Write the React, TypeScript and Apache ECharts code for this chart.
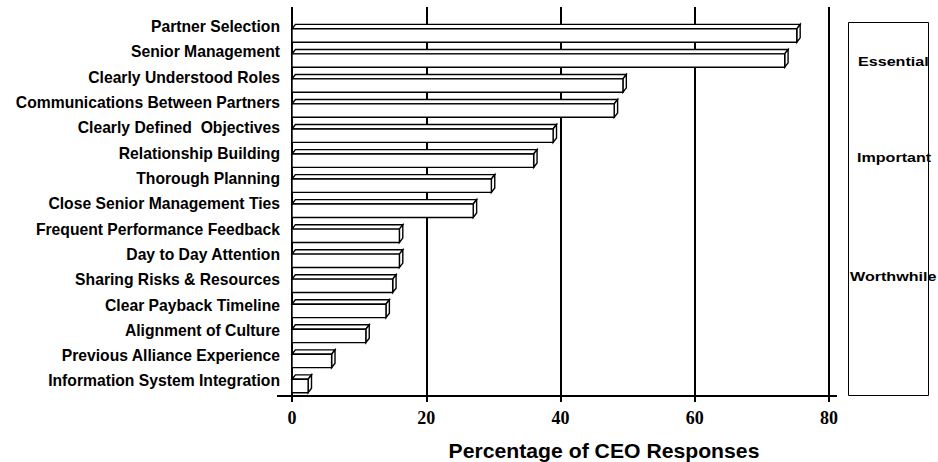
import React, { useEffect, useRef } from "react";
import * as echarts from "echarts";

const categories = [
  "Partner Selection",
  "Senior Management",
  "Clearly Understood Roles",
  "Communications Between Partners",
  "Clearly Defined  Objectives",
  "Relationship Building",
  "Thorough Planning",
  "Close Senior Management Ties",
  "Frequent Performance Feedback",
  "Day to Day Attention",
  "Sharing Risks & Resources",
  "Clear Payback Timeline",
  "Alignment of Culture",
  "Previous Alliance Experience",
  "Information System Integration",
];
const values = [75.2, 73.4, 49.3, 48.0, 38.9, 36.0, 29.7, 27.0, 16.0, 16.0, 15.0, 14.0, 11.0, 5.9, 2.4];
const xTicks = { min: 0, max: 80, interval: 20 };
const xAxisTitle = "Percentage of CEO Responses";
const levelLabels = ["Essential", "Important", "Worthwhile"];

const SANS = "'Liberation Sans', Arial, Helvetica, sans-serif";
const SERIF = "'Liberation Serif', 'Times New Roman', serif";

export default function App() {
  const ref = useRef<HTMLDivElement>(null);
  useEffect(() => {
    if (!ref.current) return;
    const chart = echarts.init(ref.current, null, { renderer: "svg" });
    const DX = 3.4;
    const DY = 4.4;
    const H = 13.4;
    const levelPos = [
      { x: 858, y: 62 },
      { x: 857, y: 158 },
      { x: 850, y: 277 },
    ];
    chart.setOption({
      animation: false,
      backgroundColor: "#ffffff",
      grid: [
        { left: 292, right: 109, top: 7, bottom: 66 },
        { left: 292, right: 109, top: 14, bottom: 68.4 },
        { left: 292, right: 109, top: 23, bottom: 63.5 },
      ],
      xAxis: [
        {
          gridIndex: 0,
          type: "value",
          min: xTicks.min,
          max: xTicks.max,
          interval: xTicks.interval,
          axisLine: { show: false },
          axisTick: { show: true, length: 6, lineStyle: { color: "#000", width: 2 } },
          splitLine: { show: true, lineStyle: { color: "#000", width: 2 } },
          axisLabel: {
            margin: 13,
            color: "#000",
            fontFamily: SERIF,
            fontWeight: "bold",
            fontSize: 18,
          },
        },
        { gridIndex: 1, type: "value", min: 0, max: 80, show: false },
        { gridIndex: 2, type: "value", min: 0, max: 80, show: false },
      ],
      yAxis: [
        { gridIndex: 0, type: "value", show: false },
        {
          gridIndex: 1,
          type: "category",
          inverse: true,
          data: categories,
          axisLine: { show: false },
          axisTick: { show: false },
          splitLine: { show: false },
          axisLabel: {
            margin: 12,
            color: "#000",
            fontFamily: SANS,
            fontWeight: "bold",
            fontSize: 15.7,
          },
        },
        {
          gridIndex: 2,
          type: "category",
          inverse: true,
          data: categories,
          show: false,
        },
      ],
      series: [
        {
          type: "custom",
          xAxisIndex: 2,
          yAxisIndex: 2,
          data: values.map((v, i) => [v, i]),
          encode: { x: 0, y: 1 },
          renderItem: (params: any, api: any) => {
            const v = api.value(0);
            const idx = api.value(1);
            const p0 = api.coord([0, idx]);
            const p1 = api.coord([v, idx]);
            const x0 = p0[0];
            const x1 = p1[0];
            const top = p0[1] - H / 2;
            const bot = p0[1] + H / 2;
            const style = { fill: "#ffffff", stroke: "#000000", lineWidth: 1.4 };
            return {
              type: "group",
              children: [
                {
                  type: "polygon",
                  shape: {
                    points: [
                      [x0, top],
                      [x0 + DX, top - DY],
                      [x1 + DX, top - DY],
                      [x1, top],
                    ],
                  },
                  style,
                },
                {
                  type: "polygon",
                  shape: {
                    points: [
                      [x1, top],
                      [x1 + DX, top - DY],
                      [x1 + DX, bot - DY],
                      [x1, bot],
                    ],
                  },
                  style,
                },
                {
                  type: "rect",
                  shape: { x: x0, y: top, width: x1 - x0, height: H },
                  style,
                },
              ],
            };
          },
        },
      ],
      graphic: [
        {
          type: "line",
          shape: { x1: 277, y1: 396, x2: 837, y2: 396 },
          style: { stroke: "#000", lineWidth: 2 },
          z: 10,
        },
        {
          type: "text",
          x: 604,
          y: 451,
          scaleX: 1.06,
          style: {
            text: xAxisTitle,
            fill: "#000",
            font: `bold 20px ${SANS}`,
            textAlign: "center",
            textVerticalAlign: "middle",
          },
        },
        {
          type: "rect",
          shape: { x: 848.5, y: 22.5, width: 80, height: 373 },
          style: { fill: "none", stroke: "#000", lineWidth: 1 },
        },
        ...levelLabels.map((t, i) => ({
          type: "text",
          x: levelPos[i].x,
          y: levelPos[i].y,
          scaleX: 1.24,
          style: {
            text: t,
            fill: "#000",
            font: `bold 13px ${SANS}`,
            textAlign: "left",
            textVerticalAlign: "middle",
          },
        })),
      ],
    });
    return () => chart.dispose();
  }, []);
  return (
    <div
      ref={ref}
      style={{ position: "fixed", left: 0, top: 0, width: 938, height: 462, background: "#fff" }}
    />
  );
}
